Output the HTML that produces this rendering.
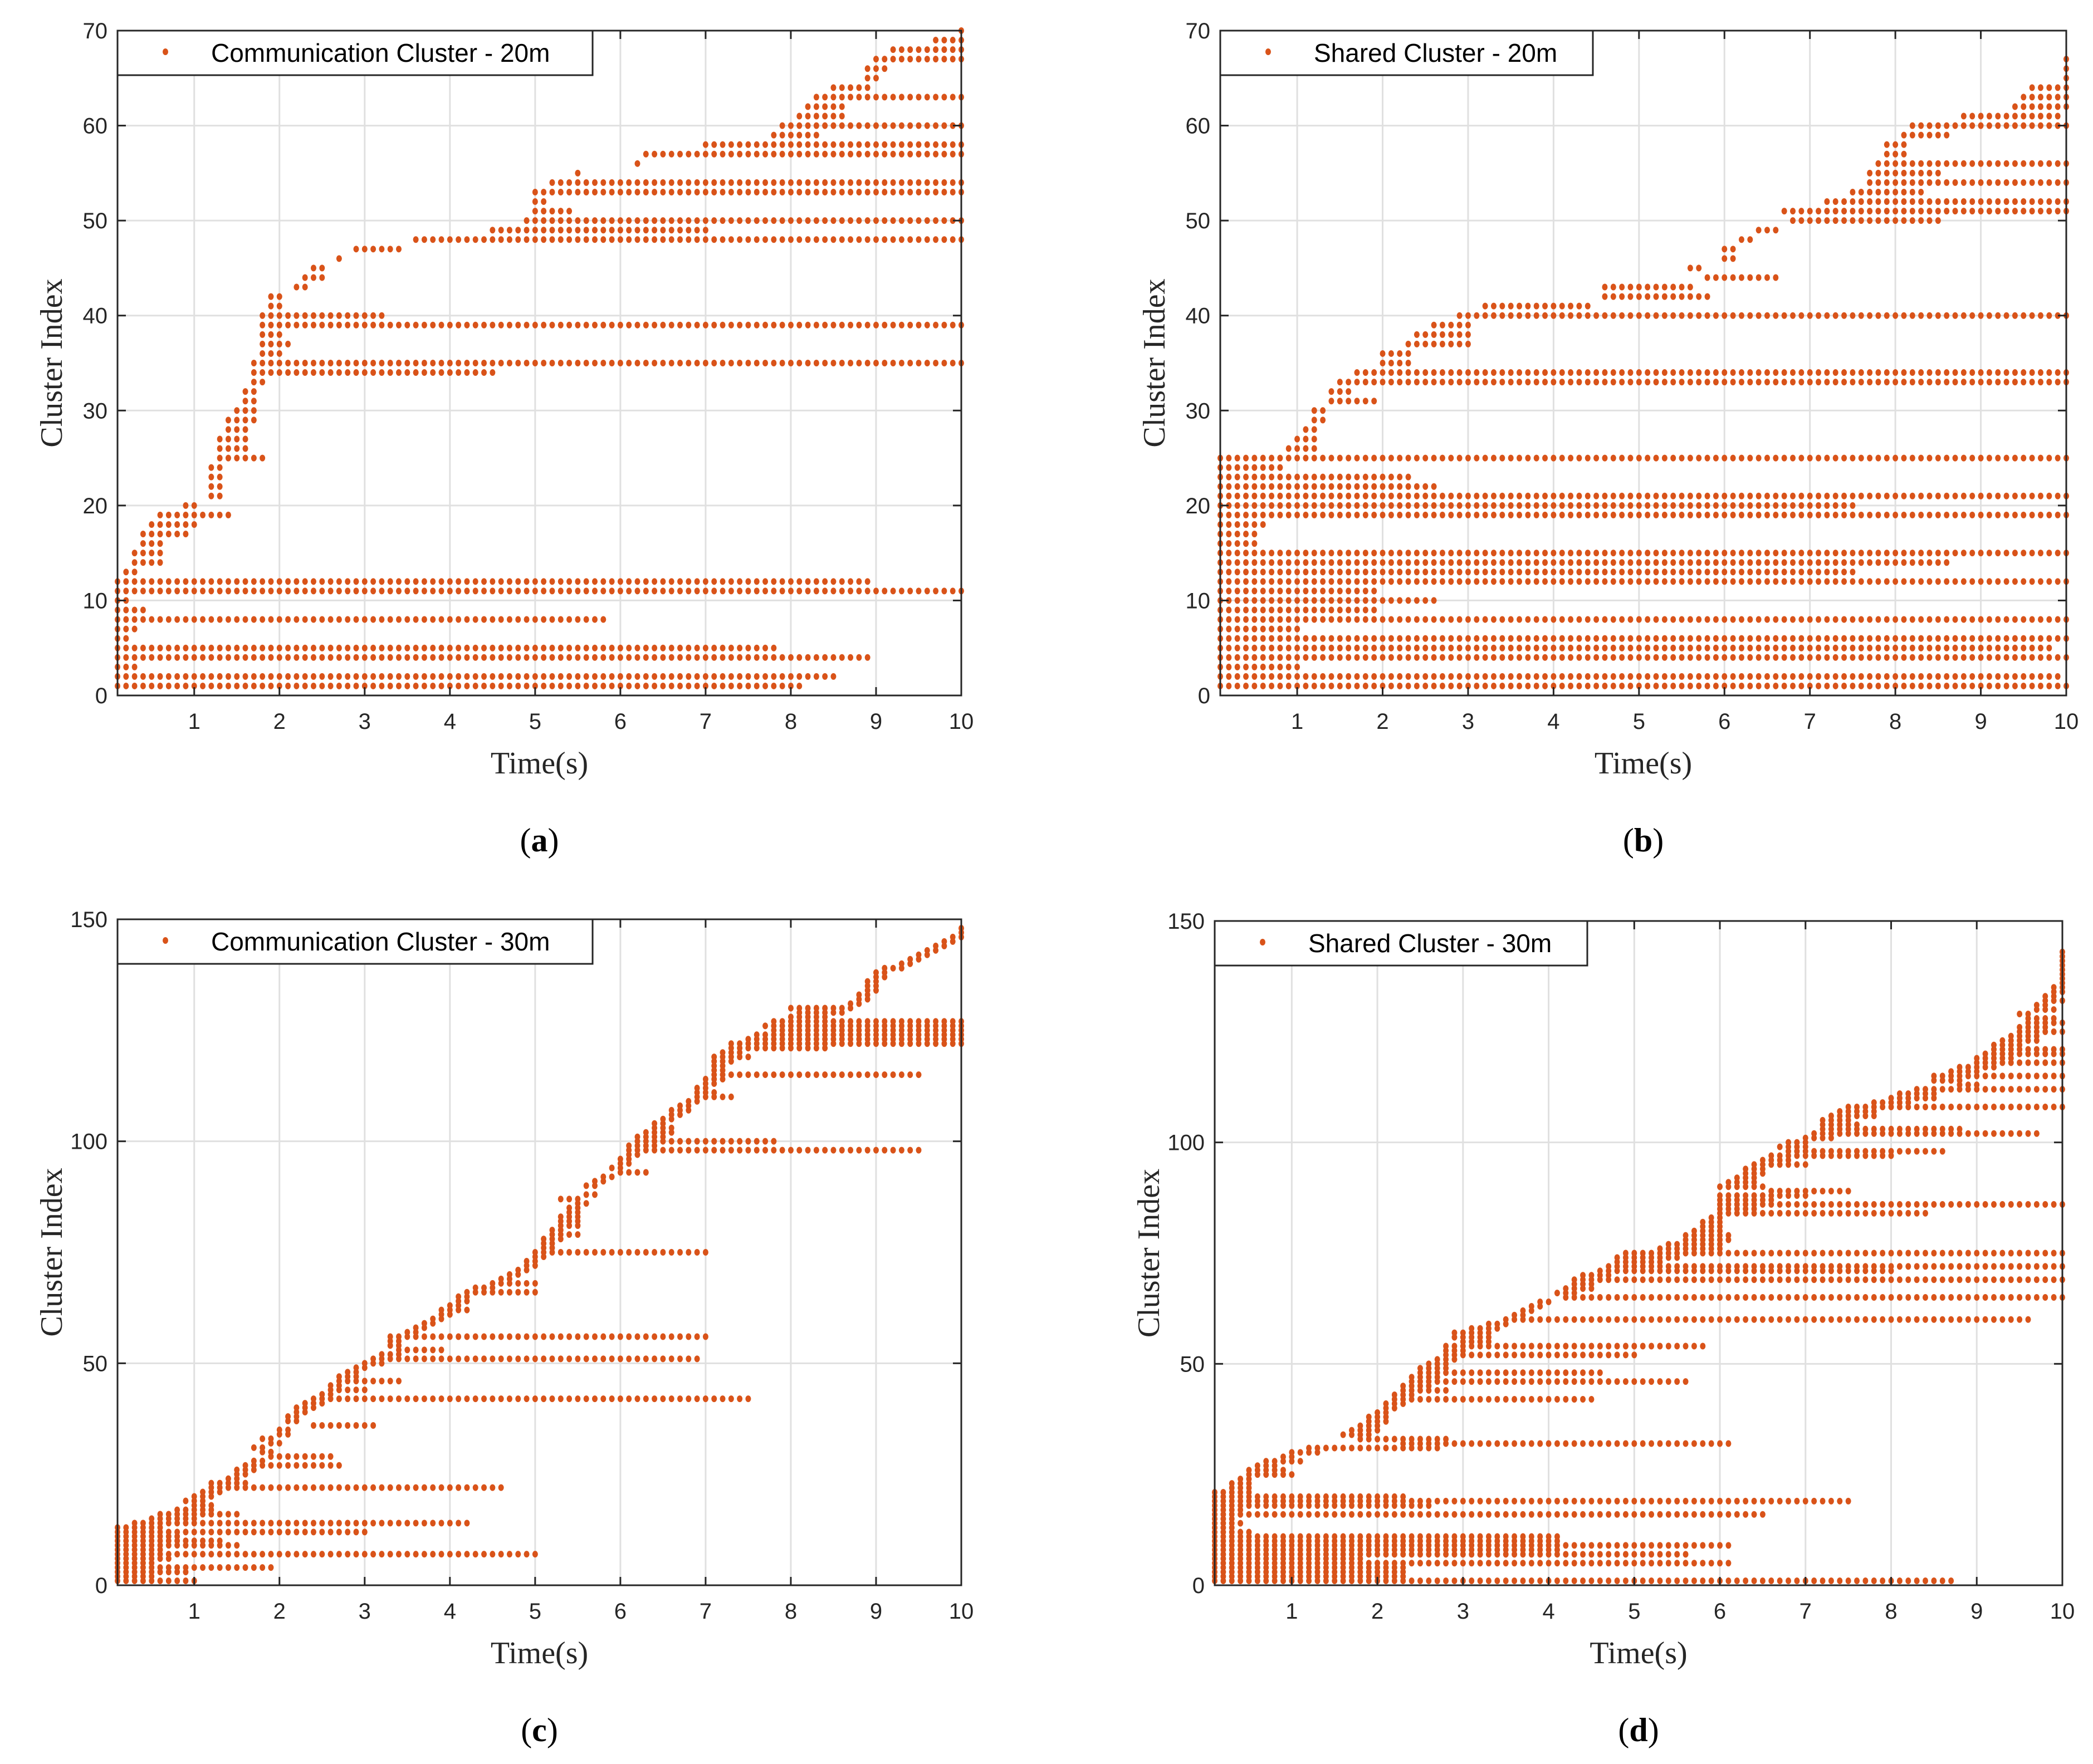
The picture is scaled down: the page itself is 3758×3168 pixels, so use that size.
<!DOCTYPE html>
<html><head><meta charset="utf-8"><style>
html,body{margin:0;padding:0;background:#fff;}
svg{display:block;}
</style></head><body>
<svg id="fig" width="3758" height="3168" xmlns="http://www.w3.org/2000/svg"></svg>
<script>
// Data: runs of [clusterIndex, startTime, endTime], dots every 0.1 s
const runsA = [[1,0.1,8.1],[2,0.1,8.5],[3,0.1,0.3],[4,0.1,8.9],[5,0.1,7.8],[6,0.1,0.2],[7,0.1,0.3],[8,0.1,5.8],[9,0.1,0.4],[10,0.1,0.2],[11,0.1,10],[12,0.1,8.9],[13,0.2,0.3],[14,0.3,0.6],[15,0.3,0.6],[16,0.4,0.6],[17,0.4,0.9],[18,0.5,1.0],[19,0.6,1.0],[20,0.9,1.0],[19,1.1,1.4],[21,1.2,1.3],[22,1.2,1.3],[23,1.2,1.3],[24,1.2,1.3],[25,1.3,1.8],[26,1.3,1.6],[27,1.3,1.6],[28,1.4,1.6],[29,1.4,1.7],[30,1.5,1.7],[31,1.6,1.7],[32,1.6,1.7],[33,1.7,1.8],[34,1.7,4.5],[35,1.7,10],[36,1.8,2.0],[37,1.8,2.1],[38,1.8,2.0],[39,1.8,10],[40,1.8,3.2],[41,1.9,2.0],[42,1.9,2.0],[43,2.2,2.3],[44,2.3,2.5],[45,2.4,2.5],[46,2.7,2.7],[47,2.9,3.4],[48,3.6,10],[49,4.5,7.0],[50,4.9,10],[51,5.0,5.4],[52,5.0,5.1],[53,5.0,10],[54,5.2,10],[55,5.5,5.5],[56,6.2,6.2],[57,6.3,10],[58,7.0,10],[59,7.8,8.3],[60,7.9,10],[61,8.1,8.6],[62,8.2,8.6],[63,8.3,10],[64,8.5,8.9],[65,8.9,9.0],[66,8.9,9.1],[67,9.0,10],[68,9.2,10],[69,9.7,10],[70,10,10]];
const runsB = [[1,0.1,10],[2,0.1,9.9],[3,0.1,1.0],[4,0.1,10],[5,0.1,9.8],[6,0.1,10],[7,0.1,1.0],[8,0.1,10],[9,0.1,1.9],[10,0.1,2.6],[11,0.1,1.9],[12,0.1,10],[13,0.1,7.5],[14,0.1,8.6],[15,0.1,10],[16,0.1,0.5],[17,0.1,0.5],[18,0.1,0.6],[19,0.1,10],[20,0.1,7.5],[21,0.1,10],[22,0.1,2.6],[23,0.1,2.3],[24,0.1,0.8],[25,0.1,10],[26,0.9,1.2],[27,1.0,1.2],[28,1.1,1.2],[29,1.2,1.3],[30,1.2,1.3],[31,1.4,1.9],[32,1.4,1.6],[33,1.5,10],[34,1.7,10],[35,2.0,2.3],[36,2.0,2.3],[37,2.3,3.0],[38,2.4,3.0],[39,2.6,3.0],[40,2.9,10],[41,3.2,4.4],[42,4.6,5.8],[43,4.6,5.6],[44,5.8,6.6],[45,5.6,5.7],[46,6.0,6.1],[47,6.0,6.1],[48,6.2,6.3],[49,6.4,6.6],[50,6.8,8.5],[51,6.7,10],[52,7.2,10],[53,7.5,8.3],[54,7.7,10],[55,7.7,8.5],[56,7.8,10],[57,7.9,8.1],[58,7.9,8.1],[59,8.1,8.6],[60,8.2,10],[61,8.8,9.9],[62,9.4,10],[63,9.5,10],[64,9.6,10],[65,10,10],[66,10,10],[67,10,10]];
const runsC = [[1,0.1,1.0],[2,0.1,0.5],[3,0.1,0.9],[4,0.1,1.9],[5,0.1,0.5],[6,0.1,0.7],[7,0.1,5.0],[8,0.1,0.6],[9,0.1,1.5],[10,0.1,1.3],[11,0.1,0.8],[12,0.1,3.0],[13,0.1,0.6],[14,0.3,4.2],[15,0.5,1.0],[16,0.6,1.5],[17,0.8,1.2],[18,1.0,1.2],[19,0.9,1.1],[20,1.0,1.2],[21,1.1,1.3],[22,1.2,4.6],[23,1.2,1.6],[24,1.4,1.5],[25,1.5,1.6],[26,1.5,1.7],[27,1.6,2.7],[28,1.7,1.8],[29,1.9,2.6],[30,1.8,1.9],[31,1.7,1.8],[32,1.9,2.0],[33,1.8,1.9],[34,2.0,2.1],[35,2.0,2.1],[36,2.4,3.1],[37,2.1,2.2],[38,2.1,2.2],[39,2.2,2.3],[40,2.2,2.4],[41,2.3,2.5],[42,2.4,7.5],[43,2.5,2.6],[44,2.6,3.0],[45,2.6,2.7],[46,2.7,3.4],[47,2.7,2.9],[48,2.8,2.9],[49,2.9,3.0],[50,3.0,3.2],[51,3.1,6.9],[52,3.2,3.4],[53,3.4,3.9],[54,3.3,3.4],[55,3.3,3.4],[56,3.3,7.0],[57,3.5,3.6],[58,3.6,3.7],[59,3.7,3.8],[60,3.8,3.9],[61,3.9,4.0],[62,3.9,4.2],[63,4.0,4.1],[64,4.1,4.2],[65,4.1,4.2],[66,4.2,5.0],[67,4.3,4.5],[68,4.5,5.0],[69,4.6,4.7],[70,4.7,4.8],[71,4.8,4.9],[72,4.9,5.0],[73,4.9,5.0],[74,5.0,5.1],[75,5.0,7.0],[76,5.1,5.2],[77,5.1,5.2],[78,5.1,5.3],[79,5.2,5.5],[80,5.2,5.3],[81,5.3,5.5],[82,5.3,5.5],[83,5.3,5.5],[84,5.4,5.5],[85,5.4,5.5],[86,5.5,5.6],[87,5.3,5.5],[88,5.6,5.7],[90,5.6,5.7],[91,5.7,5.8],[92,5.8,5.9],[93,6.0,6.3],[94,5.9,6.0],[95,6.0,6.1],[96,6.0,6.1],[97,6.1,6.2],[98,6.1,9.5],[99,6.1,6.4],[100,6.2,7.8],[101,6.2,6.5],[102,6.3,6.6],[103,6.4,6.6],[104,6.4,6.5],[105,6.5,6.6],[106,6.6,6.7],[107,6.6,6.8],[108,6.7,6.8],[109,6.8,6.9],[110,6.9,7.3],[111,6.9,7.1],[112,6.9,7.0],[113,7.0,7.1],[114,7.0,7.2],[115,7.1,9.5],[116,7.1,7.2],[117,7.1,7.2],[118,7.1,7.3],[119,7.1,7.5],[120,7.2,7.4],[121,7.3,8.4],[122,7.3,10],[123,7.5,10],[124,7.6,10],[125,7.8,10],[126,7.7,10],[127,7.8,10],[128,8.0,8.4],[129,8.1,8.6],[130,8.0,8.7],[131,8.7,8.8],[132,8.8,8.9],[133,8.8,8.9],[134,8.9,9.0],[135,8.9,9.0],[136,8.9,9.0],[137,9.0,9.1],[138,9.0,9.1],[139,9.1,9.3],[140,9.3,9.4],[141,9.4,9.5],[142,9.5,9.6],[143,9.6,9.7],[144,9.7,9.8],[145,9.8,9.9],[146,9.9,10],[147,10,10],[148,10,10]];
const runsD = [[1,0.1,8.7],[2,0.1,2.3],[3,0.1,2.3],[4,0.1,2.3],[5,0.1,6.1],[6,0.1,1.8],[7,0.1,5.6],[8,0.1,4.1],[9,0.1,6.1],[10,0.1,4.1],[11,0.1,4.1],[12,0.1,0.5],[13,0.1,0.3],[14,0.1,0.4],[15,0.1,0.3],[16,0.1,6.5],[17,0.1,0.4],[18,0.1,2.6],[19,0.1,7.5],[20,0.1,2.3],[21,0.1,0.5],[22,0.3,0.5],[23,0.3,0.5],[24,0.4,0.5],[25,0.5,1.0],[26,0.5,0.9],[27,0.6,0.8],[28,0.7,1.1],[29,0.9,1.0],[30,1.0,1.3],[31,1.2,2.7],[32,2.3,6.1],[33,1.8,2.8],[34,1.6,1.9],[35,1.7,2.0],[36,1.8,2.0],[37,1.9,2.1],[38,1.9,2.1],[39,2.0,2.1],[40,2.1,2.2],[41,2.1,2.3],[42,2.2,4.5],[43,2.2,2.4],[44,2.3,2.8],[45,2.3,2.6],[46,2.4,5.6],[47,2.4,2.7],[48,2.5,4.6],[49,2.5,2.8],[50,2.6,2.8],[51,2.7,2.9],[52,2.8,5.0],[53,2.8,3.0],[54,2.8,5.8],[55,3.0,3.3],[56,2.9,3.3],[57,2.9,3.3],[58,3.1,3.4],[59,3.3,3.5],[60,3.5,9.6],[61,3.6,3.7],[62,3.7,3.8],[63,3.8,3.9],[64,3.9,4.0],[65,4.2,10],[66,4.1,4.3],[67,4.2,4.5],[68,4.3,4.5],[69,4.3,10],[70,4.4,4.7],[71,4.6,8.0],[72,4.7,10],[73,4.8,5.3],[74,4.8,5.5],[75,4.9,10],[76,5.3,6.0],[77,5.4,6.0],[78,5.6,6.1],[79,5.6,6.1],[80,5.7,6.0],[81,5.8,6.0],[82,5.8,6.0],[83,5.9,6.0],[84,6.0,8.4],[85,6.0,6.4],[86,6.0,10],[87,6.0,6.6],[88,6.0,7.0],[89,6.6,7.5],[90,6.0,6.5],[91,6.1,6.4],[92,6.2,6.4],[93,6.3,6.5],[94,6.3,6.5],[95,6.4,7.0],[96,6.5,6.8],[97,6.6,8.0],[98,6.8,8.6],[99,6.7,7.0],[100,6.8,7.0],[101,7.0,7.3],[102,7.1,9.7],[103,7.2,8.8],[104,7.2,7.6],[105,7.2,7.5],[106,7.3,7.8],[107,7.4,7.8],[108,7.5,10],[109,7.8,8.2],[110,8.0,8.5],[111,8.1,8.5],[112,8.3,10],[113,8.8,9.0],[114,8.5,8.8],[115,8.5,10],[116,8.7,9.0],[117,8.8,9.2],[118,9.0,10],[119,9.0,9.4],[120,9.1,10],[121,9.2,10],[122,9.2,9.5],[123,9.3,9.7],[124,9.4,9.7],[125,9.5,10],[126,9.5,9.8],[127,9.6,10],[128,9.6,9.9],[129,9.5,9.6],[130,9.7,9.9],[131,9.7,9.8],[132,9.8,10],[133,9.8,9.9],[134,9.9,10],[135,9.9,10],[136,10,10],[137,10,10],[138,10,10],[139,10,10],[140,10,10],[141,10,10],[142,10,10],[143,10,10]];
const xTicks = [1,2,3,4,5,6,7,8,9,10];
const yTicks20 = [0,10,20,30,40,50,60,70];
const yTicks30 = [0,50,100,150];
const legendLabels = ["Communication Cluster - 20m","Shared Cluster - 20m","Communication Cluster - 30m","Shared Cluster - 30m"];

const NS="http://www.w3.org/2000/svg";
const svg=document.getElementById('fig');
function mk(tag,attrs,parent){const e=document.createElementNS(NS,tag);for(const k in attrs)e.setAttribute(k,attrs[k]);(parent||svg).appendChild(e);return e;}

const panels=[
 {id:'a',runs:runsA,yt:yTicks20,ymax:70,L:211,R:1726,T:55,B:1249,legW:853},
 {id:'b',runs:runsB,yt:yTicks20,ymax:70,L:2191,R:3710,T:55,B:1249,legW:669},
 {id:'c',runs:runsC,yt:yTicks30,ymax:150,L:211,R:1726,T:1651,B:2847,legW:853},
 {id:'d',runs:runsD,yt:yTicks30,ymax:150,L:2181,R:3703,T:1654,B:2847,legW:669}
];
panels.forEach((p,i)=>{
 const g=mk('g',{});
 
 
 const xs=t=>p.L+(t-0.1)/(10-0.1)*(p.R-p.L);
 const ys=v=>p.B-v/p.ymax*(p.B-p.T);
 xTicks.forEach(t=>{const l=mk('line',{x1:xs(t),x2:xs(t),y1:p.T,y2:p.B,stroke:'#e0e0e0','stroke-width':3},g);
  });
 p.yt.forEach(v=>{const l=mk('line',{x1:p.L,x2:p.R,y1:ys(v),y2:ys(v),stroke:'#e0e0e0','stroke-width':3},g);
  });
 const dg=mk('g',{fill:'#D95319'},g);
 
 
 p.runs.forEach(r=>{
  const s=Math.round(r[1]*10),e=Math.round(r[2]*10);
  for(let k=s;k<=e;k++){
   const c=mk('ellipse',{cx:xs(k/10),cy:ys(r[0]),rx:5,ry:6},dg);
   
   
  }
 });
 const bx=mk('rect',{x:p.L,y:p.T,width:p.R-p.L,height:p.B-p.T,fill:'none',stroke:'#262626','stroke-width':3},g);
 
 xTicks.forEach(t=>{
  mk('line',{x1:xs(t),x2:xs(t),y1:p.B,y2:p.B-15,stroke:'#262626','stroke-width':3},g);
  mk('line',{x1:xs(t),x2:xs(t),y1:p.T,y2:p.T+15,stroke:'#262626','stroke-width':3},g);
  const tx=mk('text',{x:xs(t),y:p.B+60,'text-anchor':'middle','font-size':40,'font-family':'Liberation Sans, sans-serif',fill:'#262626'},g);
  tx.textContent=t;
 });
 p.yt.forEach(v=>{
  mk('line',{x1:p.L,x2:p.L+15,y1:ys(v),y2:ys(v),stroke:'#262626','stroke-width':3},g);
  mk('line',{x1:p.R,x2:p.R-15,y1:ys(v),y2:ys(v),stroke:'#262626','stroke-width':3},g);
  const tx=mk('text',{x:p.L-18,y:ys(v)+14,'text-anchor':'end','font-size':40,'font-family':'Liberation Sans, sans-serif',fill:'#262626'},g);
  tx.textContent=v;
 });
 const xt=mk('text',{x:(p.L+p.R)/2,y:p.B+140,'text-anchor':'middle','font-size':56,'font-family':'Liberation Serif, serif',fill:'#262626'},g);
 xt.textContent='Time(s)';
 const ytx=p.L-100,yty=(p.T+p.B)/2;
 const yt=mk('text',{x:ytx,y:yty,'text-anchor':'middle','font-size':56,'font-family':'Liberation Serif, serif',fill:'#262626',transform:`rotate(-90 ${ytx} ${yty})`},g);
 yt.textContent='Cluster Index';
 const lg=mk('g',{},g);
 
 mk('rect',{x:p.L,y:p.T,width:p.legW,height:80,fill:'#fff',stroke:'#262626','stroke-width':3},lg);
 mk('ellipse',{cx:p.L+86,cy:p.T+38,rx:5,ry:6,fill:'#D95319'},lg);
 const lt=mk('text',{x:p.L+168,y:p.T+56,'font-size':46,'font-family':'Liberation Sans, sans-serif',fill:'#000'},lg);
 lt.textContent=legendLabels[i];
 const cp=mk('text',{x:(p.L+p.R)/2,y:p.B+280,'text-anchor':'middle','font-size':60,'font-family':'Liberation Serif, serif',fill:'#000'},g);
 cp.innerHTML='(<tspan font-weight="bold">'+p.id+'</tspan>)';
 
});
</script>
</body></html>
